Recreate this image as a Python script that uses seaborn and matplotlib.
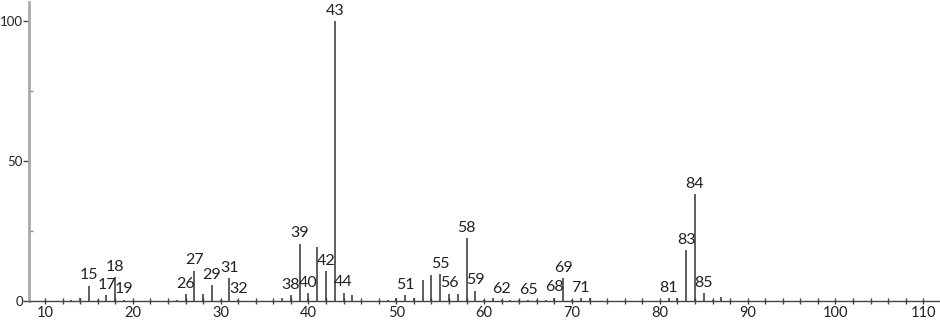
import matplotlib
matplotlib.use("Agg")
import matplotlib.pyplot as plt
import seaborn as sns
import pandas as pd
from matplotlib.ticker import MultipleLocator

mz = [13, 14, 15, 16, 17, 18, 19, 25, 26, 27, 28, 29, 30, 31, 32,
      37, 38, 39, 40, 41, 42, 43, 44, 45, 49, 50, 51, 52, 53, 54, 55,
      56, 57, 58, 59, 60, 61, 62, 63, 64, 65, 66, 67, 68, 69, 70, 71,
      72, 81, 82, 83, 84, 85, 86, 87]
intensity = [0.4, 1.0, 5.4, 0.4, 2.0, 8.5, 0.4, 0.4, 2.4, 10.8, 2.6, 5.7, 0.4, 8.1, 0.4,
             1.0, 2.0, 20.4, 2.7, 19.4, 10.6, 100.0, 3.0, 2.0, 0.4, 1.2, 2.0, 1.2, 7.5, 9.3, 9.6,
             2.6, 2.6, 22.4, 3.6, 0.4, 1.2, 0.4, 0.3, 0.5, 0.3, 0.3, 0.4, 1.2, 8.1, 0.3, 1.0,
             1.0, 1.0, 1.2, 18.2, 38.1, 2.7, 0.5, 1.4]
labeled = [15, 17, 18, 19, 26, 27, 29, 31, 32, 38, 39, 40, 42, 43, 44, 51,
           55, 56, 58, 59, 62, 65, 68, 69, 71, 81, 83, 84, 85]

df = pd.DataFrame({"mz": mz, "intensity": intensity})

sns.set_style("ticks")
plt.rcParams["font.family"] = ["Lato", "DejaVu Sans"]

fig = plt.figure(figsize=(9.4, 3.23), dpi=100)
ax = fig.add_axes([29 / 940, 22 / 323, 1 - 29 / 940, 1 - 24 / 323])

ax.vlines(df["mz"], 0, df["intensity"], color="#333333", linewidth=1.1)

for m, h in zip(df["mz"], df["intensity"]):
    if m in labeled:
        ax.annotate(str(m), xy=(m, h), xytext=(0, 2.5), textcoords="offset points",
                    ha="center", va="bottom", fontsize=11.5, color="#222222")

ax.set_xlim(8.18, 111.9)
ax.set_ylim(0, 106.8)
ax.xaxis.set_major_locator(MultipleLocator(10))
ax.xaxis.set_minor_locator(MultipleLocator(2))
ax.yaxis.set_major_locator(MultipleLocator(50))
ax.yaxis.set_minor_locator(MultipleLocator(25))

sns.despine(ax=ax, top=True, right=True)
ax.spines["left"].set_color("#aaaaaa")
ax.spines["left"].set_linewidth(2)
ax.spines["bottom"].set_color("#444444")
ax.spines["bottom"].set_linewidth(1)

ax.tick_params(axis="x", which="major", direction="inout", length=5, width=1,
               color="#444444", labelsize=10.5, pad=1, labelcolor="#222222")
ax.tick_params(axis="x", which="minor", direction="inout", length=4, width=1,
               color="#444444")
ax.tick_params(axis="y", which="major", direction="out", length=4, width=1,
               color="#444444", labelsize=9.5, pad=0.5, labelcolor="#222222")
ax.tick_params(axis="y", which="minor", direction="in", length=3, width=1,
               color="#888888")
ax.set_xlabel("")
ax.set_ylabel("")

fig.savefig("out.png", dpi=100)
